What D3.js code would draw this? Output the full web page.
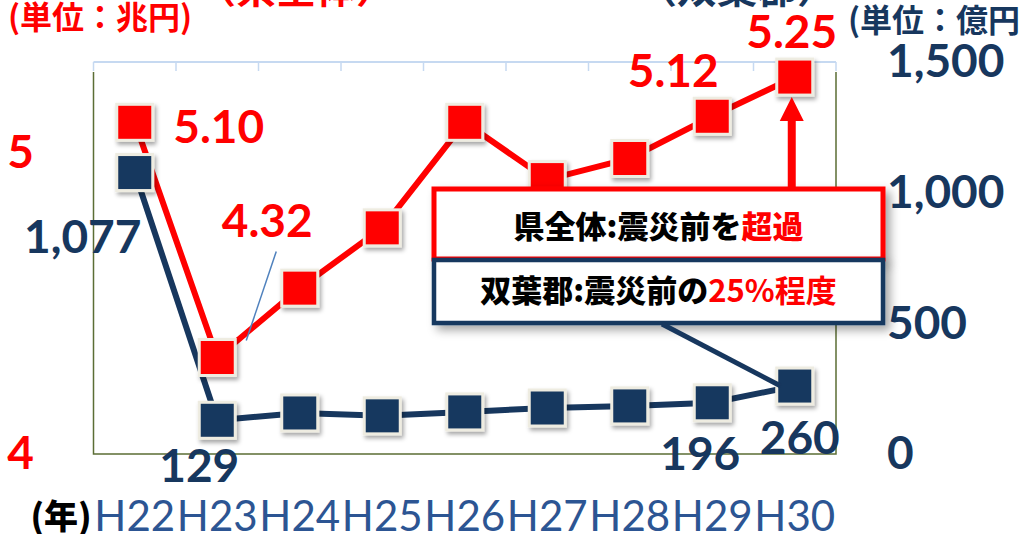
<!DOCTYPE html>
<html>
<head>
<meta charset="utf-8">
<script src="https://cdn.jsdelivr.net/npm/d3@7"></script>
<style>
  html, body { margin: 0; padding: 0; background: #fff; }
  svg { display: block; }
</style>
</head>
<body>
<div id="chart"></div>
<script>
// data
const years = ['H22', 'H23', 'H24', 'H25', 'H26', 'H27', 'H28', 'H29', 'H30'];
const prefTotal = [5.10, 4.32, 4.55, 4.75, 5.10, 4.91, 4.98, 5.12, 5.25];   // 兆円
const futaba = [1077, 129, 157, 146, 161, 176, 184, 196, 260];             // 億円
const leftTicks = [4, 5];
const rightTicks = [0, 500, 1000, 1500];
// which points carry a value label
const prefLabelIdx = [0, 1, 7, 8];
const futabaLabelIdx = [0, 1, 7, 8];

const RED = '#ff0000';
const NAVY = '#17375e';
const JP = "'Noto Sans CJK JP', 'Noto Sans', sans-serif";
const NUM = "Lato, 'Open Sans', sans-serif";

const width = 1021, height = 534;
const plot = { left: 93.5, right: 836, top: 62, bottom: 454 };

const svg = d3.select('#chart').append('svg')
  .attr('width', width)
  .attr('height', height);

const defs = svg.append('defs');
const shadow = defs.append('filter').attr('id', 'mshadow')
  .attr('x', '-30%').attr('y', '-30%').attr('width', '170%').attr('height', '170%');
shadow.append('feDropShadow')
  .attr('dx', 2).attr('dy', 3).attr('stdDeviation', 2)
  .attr('flood-color', '#000').attr('flood-opacity', 0.35);
const boxShadow = defs.append('filter').attr('id', 'bshadow')
  .attr('x', '-10%').attr('y', '-30%').attr('width', '130%').attr('height', '180%');
boxShadow.append('feDropShadow')
  .attr('dx', 5).attr('dy', 5).attr('stdDeviation', 5)
  .attr('flood-color', '#000').attr('flood-opacity', 0.35);

const x = d3.scaleBand()
  .domain(years)
  .range([plot.left, plot.right]);
const cx = d => x(d) + x.bandwidth() / 2;

const yLeft = d3.scaleLinear()
  .domain([4, 5.3])
  .range([plot.bottom, plot.top]);

const yRight = d3.scaleLinear()
  .domain([0, 1500])
  .range([plot.bottom, plot.top]);

// plot frame
const frame = svg.append('g').attr('class', 'frame');
frame.append('line')
  .attr('x1', plot.left).attr('x2', plot.right)
  .attr('y1', plot.top).attr('y2', plot.top)
  .attr('stroke', '#c6d9f1').attr('stroke-width', 2);
frame.selectAll('.gtick')
  .data(d3.range(years.length + 1))
  .enter().append('line')
  .attr('class', 'gtick')
  .attr('x1', i => plot.left + i * x.step())
  .attr('x2', i => plot.left + i * x.step())
  .attr('y1', plot.top)
  .attr('y2', plot.top + 9)
  .attr('stroke', '#c6d9f1').attr('stroke-width', 1.5);
frame.append('path')
  .attr('d', `M${plot.left},${plot.top + 10}V${plot.bottom}H${plot.right}V${plot.top + 10}`)
  .attr('fill', 'none')
  .attr('stroke', '#5b6e35')
  .attr('stroke-width', 1.5);

// axes
const leftAxis = svg.append('g')
  .attr('transform', 'translate(34,0)')
  .call(d3.axisLeft(yLeft).tickValues(leftTicks).tickFormat(d3.format('d')).tickSize(0).tickPadding(0));
leftAxis.select('.domain').remove();
leftAxis.selectAll('text')
  .attr('fill', RED)
  .style('font-family', NUM)
  .style('font-weight', 700)
  .style('font-size', '46px');

const rightAxis = svg.append('g')
  .attr('transform', 'translate(887,0)')
  .call(d3.axisRight(yRight).tickValues(rightTicks).tickFormat(d3.format(',')).tickSize(0).tickPadding(0));
rightAxis.select('.domain').remove();
rightAxis.selectAll('text')
  .attr('fill', NAVY)
  .style('font-family', NUM)
  .style('font-weight', 700)
  .style('font-size', '46px');

const bottomAxis = svg.append('g')
  .attr('transform', `translate(0,${plot.bottom})`)
  .call(d3.axisBottom(x).tickSize(0).tickPadding(0));
bottomAxis.select('.domain').remove();
bottomAxis.selectAll('text')
  .attr('y', 77)
  .attr('dy', 0)
  .attr('fill', '#2c5593')
  .style('font-family', NUM)
  .style('font-size', '42px');

svg.append('text')
  .attr('x', 61).attr('y', 529)
  .attr('text-anchor', 'middle')
  .attr('fill', '#000')
  .style('font-family', JP)
  .style('font-weight', 900)
  .style('font-size', '34px')
  .text('(年)');

// unit / series titles (top, partly cut off)
svg.append('text')
  .attr('x', 8).attr('y', 29)
  .attr('fill', RED)
  .style('font-family', JP).style('font-weight', 700).style('font-size', '32px')
  .text('(単位：兆円)');
svg.append('text')
  .attr('x', 296).attr('y', 3)
  .attr('text-anchor', 'middle')
  .attr('fill', RED)
  .style('font-family', JP).style('font-weight', 700).style('font-size', '40px')
  .text('（県全体）');
svg.append('text')
  .attr('x', 737).attr('y', 3)
  .attr('text-anchor', 'middle')
  .attr('fill', NAVY)
  .style('font-family', JP).style('font-weight', 700).style('font-size', '40px')
  .text('（双葉郡）');
svg.append('text')
  .attr('x', 848).attr('y', 32)
  .attr('fill', NAVY)
  .style('font-family', JP).style('font-weight', 700).style('font-size', '32px')
  .text('(単位：億円');

// series
const series = [
  { name: 'futaba', values: futaba, scale: yRight, color: NAVY },
  { name: 'pref', values: prefTotal, scale: yLeft, color: RED },
];

const line = s => d3.line()
  .x((d, i) => cx(years[i]))
  .y(d => s.scale(d))(s.values);

const lines = svg.append('g').attr('class', 'lines');
lines.selectAll('path')
  .data(series)
  .enter().append('path')
  .attr('fill', 'none')
  .attr('stroke', d => d.color)
  .attr('stroke-width', 6)
  .attr('d', d => line(d));

const markerSize = 36;
series.forEach(s => {
  svg.append('g')
    .attr('class', `${s.name}_markers`)
    .selectAll('rect')
    .data(s.values)
    .enter().append('rect')
    .attr('x', (d, i) => cx(years[i]) - markerSize / 2)
    .attr('y', d => s.scale(d) - markerSize / 2)
    .attr('width', markerSize)
    .attr('height', markerSize)
    .attr('fill', s.color)
    .attr('stroke', '#eeece1')
    .attr('stroke-width', 3)
    .attr('filter', 'url(#mshadow)');
});

// value labels, placed from the scaled point with an offset
const prefOffsets = { 0: [84, 4], 1: [50, -137], 7: [-39, -46], 8: [-3, -46] };
const futabaOffsets = { 0: [-52, 64], 1: [-18, 45], 7: [-12, 51], 8: [5, 51] };

const labels = svg.append('g').attr('class', 'labels');
labels.selectAll('.prefLabel')
  .data(prefLabelIdx)
  .enter().append('text')
  .attr('class', 'prefLabel')
  .attr('x', i => cx(years[i]) + prefOffsets[i][0])
  .attr('y', i => yLeft(prefTotal[i]) + prefOffsets[i][1])
  .attr('dy', '0.36em')
  .attr('text-anchor', 'middle')
  .attr('fill', RED)
  .style('font-family', NUM).style('font-weight', 700).style('font-size', '46px')
  .text(i => d3.format('.2f')(prefTotal[i]));

labels.selectAll('.futabaLabel')
  .data(futabaLabelIdx)
  .enter().append('text')
  .attr('class', 'futabaLabel')
  .attr('x', i => cx(years[i]) + futabaOffsets[i][0])
  .attr('y', i => yRight(futaba[i]) + futabaOffsets[i][1])
  .attr('dy', '0.36em')
  .attr('text-anchor', 'middle')
  .attr('fill', NAVY)
  .style('font-family', NUM).style('font-weight', 700).style('font-size', '46px')
  .text(i => d3.format(',')(futaba[i]));

// leader line for 4.32
const p1 = [cx(years[1]), yLeft(prefTotal[1])];
labels.append('line')
  .attr('x1', p1[0] + 59).attr('y1', p1[1] - 106)
  .attr('x2', p1[0] + 29).attr('y2', p1[1] - 17)
  .attr('stroke', '#4f81bd')
  .attr('stroke-width', 1.5);

// callouts
const callout = svg.append('g').attr('class', 'callout');
const box = { x: 434, w: 449 };

callout.append('rect')
  .attr('x', box.x).attr('y', 189)
  .attr('width', box.w).attr('height', 70)
  .attr('fill', '#fff')
  .attr('stroke', RED).attr('stroke-width', 5)
  .attr('filter', 'url(#bshadow)');
callout.append('rect')
  .attr('x', box.x).attr('y', 260)
  .attr('width', box.w).attr('height', 63)
  .attr('fill', '#fff')
  .attr('stroke', NAVY).attr('stroke-width', 4.5)
  .attr('filter', 'url(#bshadow)');

const t1 = callout.append('text')
  .attr('x', box.x + box.w / 2).attr('y', 238)
  .attr('text-anchor', 'middle')
  .style('font-family', JP).style('font-weight', 900).style('font-size', '31px');
t1.append('tspan').attr('fill', '#000').text('県全体:震災前を');
t1.append('tspan').attr('fill', RED).text('超過');

const t2 = callout.append('text')
  .attr('x', box.x + box.w / 2).attr('y', 302)
  .attr('text-anchor', 'middle')
  .style('font-family', JP).style('font-weight', 900).style('font-size', '31px');
t2.append('tspan').attr('fill', '#000').text('双葉郡:震災前の');
t2.append('tspan').attr('fill', RED).attr('font-weight', 700).text('25%程度');

// red arrow up to the H30 marker
const last = years.length - 1;
const ax = cx(years[last]) - 3;
const tipY = yLeft(prefTotal[last]) + markerSize / 2 + 2;
callout.append('line')
  .attr('x1', ax).attr('x2', ax)
  .attr('y1', 187).attr('y2', tipY + 20)
  .attr('stroke', RED).attr('stroke-width', 8);
callout.append('path')
  .attr('d', `M${ax},${tipY}L${ax - 12},${tipY + 24}L${ax + 12},${tipY + 24}Z`)
  .attr('fill', RED);

// navy connector to the H30 marker
callout.append('line')
  .attr('x1', 662).attr('y1', 324)
  .attr('x2', cx(years[last]) - 14).attr('y2', yRight(futaba[last]))
  .attr('stroke', NAVY).attr('stroke-width', 5);
</script>
</body>
</html>
